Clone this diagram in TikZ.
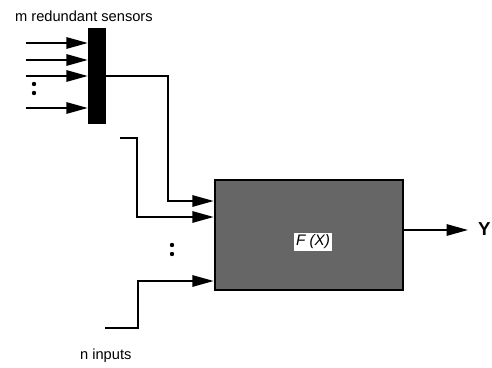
\documentclass[tikz,border=0pt]{standalone}
\usepackage{fontspec}
\setmainfont{Liberation Sans}
\usetikzlibrary{arrows.meta}
\tikzset{
  wire/.style={line width=1.6pt},
  sig/.style={wire,-{Triangle[length=0.64cm,width=0.34cm]}},
  dot/.style={fill=black,inner sep=0pt,minimum size=0.13cm,circle},
  lbl/.style={font=\fontsize{12.5}{14}\selectfont},
}
\begin{document}
\begin{tikzpicture}[x=0.03cm,y=-0.03cm]
  \useasboundingbox (0,0) rectangle (492,368);
  % sensor bar and function block
  \node[fill=black,inner sep=0pt,minimum width=0.54cm,minimum height=2.88cm] (bar) at (97,76) {};
  \node[draw=black,line width=2.2pt,fill=black!60,inner sep=0pt,minimum width=5.64cm,minimum height=3.3cm] (fx) at (309,235) {};
  \node[fill=white,inner sep=1.5pt,font=\fontsize{13}{15}\selectfont\itshape] (fxlabel) at (313,242) {F (X)};
  \node[lbl,anchor=west] (msens) at (11,16) {m redundant sensors};
  \node[lbl,anchor=west] (ninp) at (76,356) {n inputs};
  \node[anchor=west,inner sep=0pt,font=\fontsize{16}{18}\selectfont\bfseries] (y) at (478,229) {Y};
  % sensor inputs
  \foreach \yy in {43,60,76,108}
    \draw[sig] (26,\yy) -- (26,\yy -| bar.west);
  \node[dot] (d1) at (34,84) {};
  \node[dot] (d2) at (34,93) {};
  % inputs to the block
  \coordinate (in1) at (120,138);
  \coordinate (in2) at (105,328);
  \draw[sig] (bar.east) -- (168,76) -- (168,201) -- (168,201 -| fx.west);
  \draw[sig] (in1) -- (137,138) -- (137,217) -- (137,217 -| fx.west);
  \draw[sig] (in2) -- (138,328) -- (138,281) -- (138,281 -| fx.west);
  \node[dot] (d3) at (172,245) {};
  \node[dot] (d4) at (172,254) {};
  % output
  \draw[sig] (fx.east |- 0,230) -- (468,230);
\end{tikzpicture}
\end{document}
